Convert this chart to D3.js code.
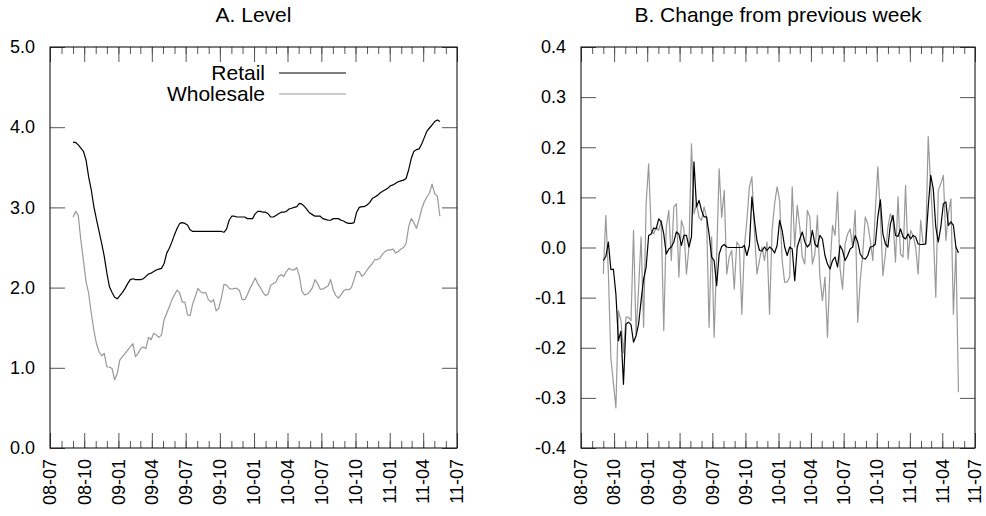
<!DOCTYPE html>
<html>
<head>
<meta charset="utf-8">
<script src="https://cdn.jsdelivr.net/npm/d3@7"></script>
<style>
	body { margin: 0; background: #fff; }
	svg text { font-family: "Liberation Sans", Arial, Helvetica, sans-serif; fill: #000; }
</style>
</head>
<body>
<svg></svg>
<script>
const size = { w: 986, h: 516 };

// weekly observations, first one on this date
const startDate = new Date(2008, 8, 1);

const retailLevel = [
	3.81, 3.81, 3.78, 3.74, 3.70, 3.59, 3.38, 3.22, 3.01, 2.85,
	2.70, 2.55, 2.39, 2.18, 2.01, 1.94, 1.88, 1.86, 1.90, 1.94,
	1.99, 2.05, 2.10, 2.11, 2.10, 2.10, 2.10, 2.11, 2.14, 2.17,
	2.18, 2.20, 2.22, 2.23, 2.24, 2.30, 2.43, 2.49, 2.57, 2.66,
	2.74, 2.80, 2.81, 2.80, 2.78, 2.72, 2.70, 2.70, 2.70, 2.70,
	2.70, 2.70, 2.70, 2.70, 2.70, 2.70, 2.70, 2.70, 2.69, 2.73,
	2.84, 2.89, 2.89, 2.88, 2.88, 2.88, 2.88, 2.86, 2.86, 2.86,
	2.92, 2.95, 2.95, 2.94, 2.94, 2.92, 2.88, 2.88, 2.90, 2.92,
	2.94, 2.94, 2.95, 2.98, 2.99, 3.00, 3.01, 3.05, 3.04, 3.01,
	2.97, 2.93, 2.91, 2.89, 2.89, 2.89, 2.86, 2.85, 2.84, 2.84,
	2.86, 2.86, 2.86, 2.84, 2.83, 2.81, 2.80, 2.80, 2.81, 2.94,
	3.00, 3.01, 3.01, 3.03, 3.06, 3.11, 3.13, 3.15, 3.18, 3.20,
	3.22, 3.24, 3.27, 3.28, 3.30, 3.32, 3.33, 3.34, 3.36, 3.47,
	3.61, 3.70, 3.72, 3.73, 3.79, 3.87, 3.95, 3.99, 4.03, 4.07,
	4.09, 4.07
];

const wholesaleLevel = [
	2.88, 2.95, 2.90, 2.59, 2.34, 2.07, 1.93, 1.68, 1.47, 1.30,
	1.20, 1.15, 1.18, 1.01, 1.01, 0.99, 0.85, 0.93, 1.10, 1.14,
	1.18, 1.22, 1.26, 1.30, 1.14, 1.18, 1.24, 1.26, 1.24, 1.38,
	1.35, 1.43, 1.41, 1.38, 1.41, 1.60, 1.68, 1.76, 1.85, 1.91,
	1.97, 1.93, 1.82, 1.82, 1.66, 1.65, 1.80, 1.89, 1.99, 1.95,
	1.93, 1.94, 1.85, 1.82, 1.85, 1.71, 1.74, 1.87, 2.04, 2.03,
	1.99, 1.98, 1.99, 1.99, 1.96, 1.85, 1.85, 1.91, 1.99, 2.05,
	2.12, 2.05, 2.00, 1.94, 1.90, 1.92, 2.03, 2.05, 2.07, 2.14,
	2.16, 2.14, 2.20, 2.24, 2.22, 2.22, 2.25, 2.14, 1.95, 1.91,
	1.92, 1.95, 2.00, 2.10, 2.05, 1.98, 1.98, 2.00, 2.02, 2.10,
	1.97, 1.90, 1.87, 1.91, 1.96, 1.98, 1.97, 2.00, 2.10, 2.20,
	2.20, 2.14, 2.17, 2.22, 2.26, 2.30, 2.35, 2.35, 2.37, 2.42,
	2.45, 2.47, 2.47, 2.48, 2.43, 2.45, 2.48, 2.50, 2.55, 2.76,
	2.86, 2.81, 2.74, 2.85, 2.98, 3.07, 3.13, 3.18, 3.29, 3.17,
	3.14, 2.89
];

const retailChange = [
	-0.026, -0.018, 0.011, -0.044, -0.043, -0.093, -0.186, -0.167, -0.273, -0.153,
	-0.149, -0.154, -0.189, -0.176, -0.153, -0.106, -0.063, -0.039, 0.024, 0.027,
	0.039, 0.037, 0.057, 0.051, 0.027, -0.013, -0.003, 0.001, 0.011, 0.031,
	0.027, 0.004, 0.024, 0.024, 0.001, 0.021, 0.171, 0.081, 0.094, 0.074,
	0.061, 0.061, 0.027, -0.019, -0.026, -0.076, -0.013, 0.002, 0.006, 0.001,
	0, 0, 0, 0, 0, 0, 0.004, -0.016, 0.004, 0.101,
	0.054, 0.014, -0.006, -0.007, 0.001, -0.006, 0.001, -0.003, -0.011, 0.004,
	0.054, 0.034, 0.001, -0.016, 0.001, -0.003, -0.066, 0.001, 0.017, 0.031,
	0.011, 0.001, 0.007, 0.034, 0.007, 0.001, 0.024, 0.017, -0.016, -0.033,
	-0.043, -0.026, -0.019, -0.039, 0.004, -0.006, -0.026, -0.016, -0.003, 0.001,
	0.024, 0.011, -0.013, -0.021, -0.023, -0.016, 0.001, 0.002, 0.007, 0.061,
	0.095, 0.027, 0.007, 0.001, 0.047, 0.064, 0.024, 0.022, 0.037, 0.021,
	0.017, 0.027, 0.017, 0.024, 0.021, 0.007, 0.006, 0.006, 0.007, 0.081,
	0.144, 0.117, 0.041, 0.011, 0.041, 0.087, 0.091, 0.044, 0.051, 0.044,
	0.001, -0.011
];

const wholesaleChange = [
	-0.053, 0.064, -0.05, -0.22, -0.27, -0.32, -0.126, -0.146, -0.21, -0.139,
	-0.139, -0.146, 0.034, -0.173, -0.083, 0.021, -0.159, 0.087, 0.167, 0.034,
	0.027, 0.041, 0.034, 0.054, -0.166, 0.041, 0.074, -0.026, 0.081, 0.087,
	-0.059, 0.054, 0.037, -0.053, 0.001, 0.207, 0.067, 0.087, 0.06, 0.054,
	0.081, 0.06, -0.159, 0.021, -0.179, -0.02, 0.157, 0.06, 0.114, -0.053,
	-0.019, -0.006, -0.083, 0.011, 0.004, -0.133, 0.001, 0.054, 0.121, 0.141,
	0.034, -0.053, -0.026, 0.001, -0.026, 0.011, -0.133, 0.034, 0.087, 0.121,
	0.094, -0.026, -0.069, -0.069, -0.059, 0.121, 0.001, 0.084, 0.041, -0.019,
	-0.033, 0.074, 0.061, -0.033, -0.013, 0.064, -0.059, -0.106, -0.059, -0.179,
	-0.039, 0.044, 0.024, 0.111, -0.043, -0.083, 0.007, 0.027, 0.037, 0.001,
	0.074, -0.149, -0.066, -0.013, 0.061, 0.047, 0.014, -0.026, 0.074, 0.161,
	0.067, -0.056, -0.013, 0.041, 0.067, 0.054, -0.029, 0.101, -0.013, -0.019,
	0.124, -0.023, 0.034, 0.024, 0.001, -0.053, 0.054, 0.007, 0.007, 0.221,
	0.121, 0.034, -0.099, 0.114, 0.127, 0.144, 0.014, 0.067, 0.097, -0.133,
	0.001, -0.289
];

const seriesNames = ["Retail", "Wholesale"];
const seriesColors = ["#000000", "#999999"];
const levelTicks = [0, 1, 2, 3, 4, 5];
const changeTicks = [-0.4, -0.3, -0.2, -0.1, 0, 0.1, 0.2, 0.3, 0.4];
const dateRange = [new Date(2008, 6, 1), new Date(2011, 6, 1)];

const dates = retailLevel.map((d, i) => d3.timeDay.offset(startDate, 7 * i));

const svg = d3.select("svg").attr("width", size.w).attr("height", size.h);

const panels = [
	{
		title: "A. Level",
		box: { l: 50, r: 457, t: 47, b: 448 },
		yTicks: levelTicks,
		series: [retailLevel, wholesaleLevel],
		legend: true
	},
	{
		title: "B. Change from previous week",
		box: { l: 581, r: 975, t: 47, b: 448 },
		yTicks: changeTicks,
		series: [retailChange, wholesaleChange],
		legend: false
	}
];

panels.forEach(drawPanel);

function drawPanel(p) {
	const g = svg.append("g");
	const b = p.box;

	const xScale = d3.scaleTime().domain(dateRange).range([b.l, b.r]);
	const yScale = d3
		.scaleLinear()
		.domain(d3.extent(p.yTicks))
		.range([b.b, b.t]);

	const quarters = d3.timeMonth.every(3).range(dateRange[0], d3.timeDay.offset(dateRange[1], 1));
	const months = d3.timeMonth.range(dateRange[0], d3.timeDay.offset(dateRange[1], 1));

	// minor ticks (months) and major ticks (quarters), inside, top and bottom
	[
		[d3.axisBottom, b.b],
		[d3.axisTop, b.t]
	].forEach(([axis, yPos]) => {
		g.append("g")
			.attr("transform", `translate(0, ${yPos})`)
			.call(axis(xScale).tickValues(months).tickSize(-7).tickFormat(""));
		g.append("g")
			.attr("transform", `translate(0, ${yPos})`)
			.call(axis(xScale).tickValues(quarters).tickSize(-15).tickFormat(""));
	});

	// y ticks, inside, left and right
	g.append("g")
		.attr("transform", `translate(${b.l}, 0)`)
		.call(
			d3
				.axisLeft(yScale)
				.tickValues(p.yTicks)
				.tickSize(-15)
				.tickPadding(15)
				.tickFormat((d) => d.toFixed(1))
		);
	g.append("g")
		.attr("transform", `translate(${b.r}, 0)`)
		.call(d3.axisRight(yScale).tickValues(p.yTicks).tickSize(-15).tickFormat(""));

	g.selectAll(".domain").remove();
	g.selectAll(".tick line").attr("stroke", "#555");
	g.selectAll(".tick text").attr("font-size", 18).attr("fill", "#000");

	// rotated date labels
	g.append("g")
		.selectAll("text")
		.data(quarters)
		.join("text")
		.attr("transform", (d) => `translate(${xScale(d)}, ${b.b + 11}) rotate(-90)`)
		.attr("text-anchor", "end")
		.attr("dy", "0.35em")
		.attr("font-size", 18)
		.text(d3.timeFormat("%y-%m"));

	// series, grey first so black sits on top
	const line = d3
		.line()
		.x((d, i) => xScale(dates[i]))
		.y((d) => yScale(d));
	[1, 0].forEach((k) => {
		g.append("path")
			.datum(p.series[k])
			.attr("fill", "none")
			.attr("stroke", seriesColors[k])
			.attr("stroke-width", 1.2)
			.attr("stroke-linejoin", "round")
			.attr("d", line);
	});

	g.append("rect")
		.attr("x", b.l)
		.attr("y", b.t)
		.attr("width", b.r - b.l)
		.attr("height", b.b - b.t)
		.attr("fill", "none")
		.attr("stroke", "#000")
		.attr("stroke-width", 1);

	g.append("text")
		.attr("x", (b.l + b.r) / 2)
		.attr("y", 22)
		.attr("text-anchor", "middle")
		.attr("font-size", 21)
		.text(p.title);

	if (p.legend) {
		seriesNames.forEach((name, i) => {
			g.append("text")
				.attr("x", 265)
				.attr("y", 80 + i * 21)
				.attr("text-anchor", "end")
				.attr("font-size", 21)
				.text(name);
			g.append("line")
				.attr("x1", 279)
				.attr("x2", 346)
				.attr("y1", 73 + i * 21)
				.attr("y2", 73 + i * 21)
				.attr("stroke", seriesColors[i])
				.attr("stroke-width", 1.2);
		});
	}
}
</script>
</body>
</html>
